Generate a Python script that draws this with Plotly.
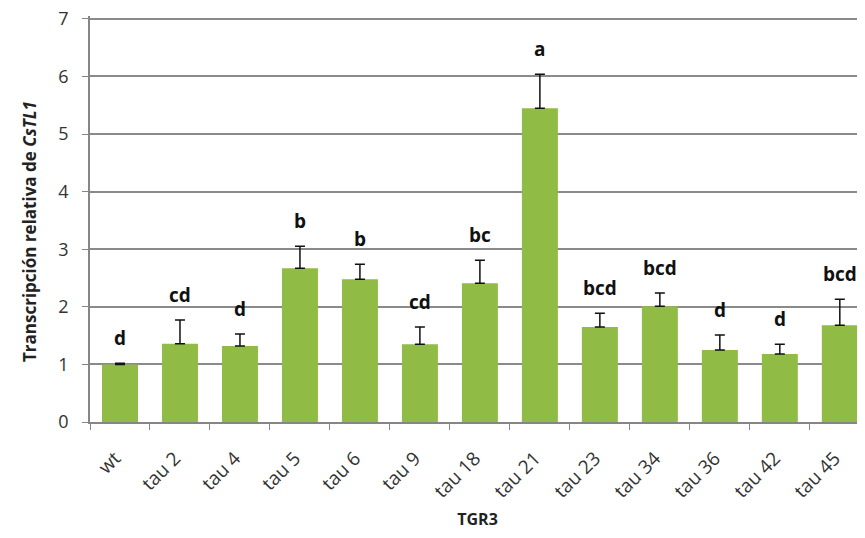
import plotly.graph_objects as go

categories = ["wt", "tau 2", "tau 4", "tau 5", "tau 6", "tau 9", "tau 18", "tau 21",
              "tau 23", "tau 34", "tau 36", "tau 42", "tau 45"]
values = [1.0, 1.36, 1.32, 2.67, 2.48, 1.35, 2.41, 5.45, 1.65, 2.01, 1.25, 1.18, 1.68]
errors = [0.02, 0.41, 0.21, 0.38, 0.26, 0.30, 0.40, 0.59, 0.24, 0.23, 0.26, 0.17, 0.45]
letters = ["d", "cd", "d", "b", "b", "cd", "bc", "a", "bcd", "bcd", "d", "d", "bcd"]
y_ticks = [0, 1, 2, 3, 4, 5, 6, 7]

FONT = "Open Sans, Liberation Sans, sans-serif"
GRID = "#8a8a8a"

fig = go.Figure()
fig.add_trace(go.Bar(
    x=categories, y=values, width=0.6,
    marker=dict(color="#90BB45", line=dict(width=0)),
    error_y=dict(type="data", symmetric=False, array=errors,
                 arrayminus=[0] * len(errors), color="#111111",
                 thickness=1.5, width=5),
    showlegend=False,
))

for c, v, e, l in zip(categories, values, errors, letters):
    fig.add_annotation(x=c, y=v + e, text=l, showarrow=False,
                       yanchor="bottom", yshift=10,
                       font=dict(family=FONT, size=19, color="#111111", weight="bold"))

# top gridline (at the highest tick) drawn explicitly
fig.add_shape(type="line", xref="paper", x0=0, x1=1, yref="y",
              y0=y_ticks[-1], y1=y_ticks[-1], layer="below",
              line=dict(color=GRID, width=1.5))

# y-axis title placed as rotated annotation
fig.add_annotation(xref="paper", yref="paper", x=-0.0774, y=0.468,
                   xanchor="center", yanchor="middle", textangle=-90, showarrow=False,
                   text="Transcripción relativa de <i>CsTL1</i>",
                   font=dict(family=FONT, size=17, color="#222222", weight="bold"))

fig.update_layout(
    width=857, height=522,
    margin=dict(l=82, r=0, t=8, b=108),
    plot_bgcolor="white", paper_bgcolor="white",
    bargap=0.4,
)
fig.update_xaxes(
    range=[-0.5, 12.42], tickangle=-45, tickson="boundaries",
    ticks="outside", ticklen=6, tickcolor="#868686", automargin=False,
    ticklabelstandoff=16, ticklabelshift=-5,
    showline=True, linecolor="#868686", linewidth=1.5,
    tickfont=dict(family=FONT, size=19, color="#333333"),
    title=dict(text="TGR3", font=dict(family=FONT, size=16, color="#222222", weight="bold"),
               standoff=20),
    showgrid=False,
)
fig.update_yaxes(
    range=[0, 7.05], tickvals=y_ticks, automargin=False,
    ticks="outside", ticklen=6, tickcolor="#868686", ticklabelstandoff=10,
    ticklabeloverflow="allow",
    showline=True, linecolor="#868686", linewidth=1.5,
    showgrid=True, gridcolor=GRID, gridwidth=1.5,
    tickfont=dict(family=FONT, size=18, color="#333333"),
    zeroline=False,
)

fig.write_html("out.html")
